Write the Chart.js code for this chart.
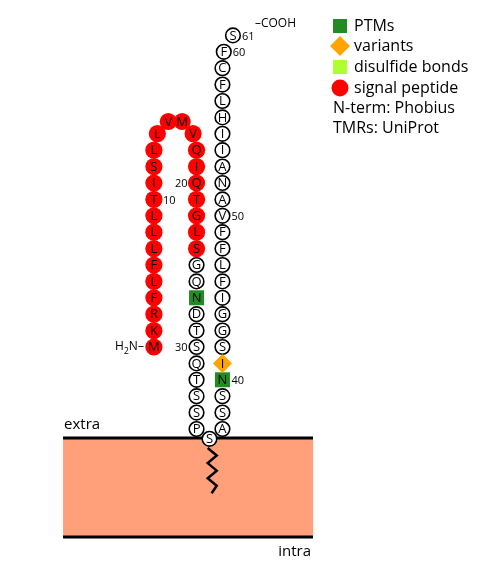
<!DOCTYPE html>
<html>
<head>
<meta charset="utf-8">
<script src="https://cdn.jsdelivr.net/npm/chart.js@4/dist/chart.umd.min.js"></script>
<style>
  body { margin: 0; background: #fff; }
  #wrap { width: 502px; height: 575px; position: relative; }
</style>
</head>
<body>
<div id="wrap"><canvas id="topo"></canvas></div>
<script>
// protein sequence, one letter per residue (N -> C)
const sequence = ['M','K','R','F','L','F','L','L','L','T','I','S','L','L','V','M','V','Q','I','Q',
                  'T','G','L','S','G','Q','N','D','T','S','Q','T','S','S','P','S','A','S','S','N',
                  'I','S','G','G','I','F','L','F','F','V','A','N','A','I','I','H','L','F','C','F','S'];

// features (residue numbers, 1-based)
const signalPeptide = [1, 24];
const ptmSites = [27, 40];
const variantSites = [41];
const disulfideSites = [];
const anchorResidue = 36;       // residue sitting on the membrane

// legend
const legendLabels = ['PTMs', 'variants', 'disulfide bonds', 'signal peptide'];
const legendNotes = ['N-term: Phobius', 'TMRs: UniProt'];

// colours
const colPTM = '#228B22';
const colVariant = '#FFA500';
const colDisulfide = '#ADFF2F';
const colSignal = '#FF0000';
const colMembrane = '#FFA07A';

const W = 502, H = 575;
const U = 16.4;                        // pixels per residue step
const ORIGIN = {x: 209.5, y: 438};     // anchor residue / membrane top
const COL = 0.79;                      // half distance between strands
const GAP = 2.6;                       // hairpin width
const ROW0 = 0.55;                     // first row above the anchor
const LOOP_ROWS = 17;                  // rows before the hairpin turns

// place a residue in residue-step units, anchor = (0,0)
function place(n) {
  if (n === anchorResidue) return {x: 0, y: -0.05};
  if (n > anchorResidue) {
    const j = n - anchorResidue - 1;
    const over = Math.max(0, n - (sequence.length - 2));
    return {x: COL + 0.08 * over ** 3, y: ROW0 + j};
  }
  const j = anchorResidue - 1 - n;
  if (j <= LOOP_ROWS) return {x: -COL, y: ROW0 + j};
  const k = j - LOOP_ROWS - 1;         // 0..3 around the turn
  if (k < 4) {
    const a = (33 + k * 38) * Math.PI / 180;
    return {x: -COL - GAP / 2 + (GAP / 2) * Math.cos(a),
            y: ROW0 + LOOP_ROWS + 1.85 * Math.sin(a)};
  }
  return {x: -COL - GAP, y: ROW0 + LOOP_ROWS - (k - 4)};
}

function kind(n) {
  if (variantSites.includes(n)) return 'variant';
  if (ptmSites.includes(n)) return 'ptm';
  if (disulfideSites.includes(n)) return 'ss';
  if (n >= signalPeptide[0] && n <= signalPeptide[1]) return 'signal';
  return 'plain';
}

const groups = {plain: [], signal: [], ptm: [], ss: [], variant: []};
sequence.forEach((aa, i) => {
  const n = i + 1;
  const p = place(n);
  groups[kind(n)].push({x: p.x, y: p.y, aa: aa, n: n});
});

// membrane extent in the same units
const MEM = {left: -8.93, right: 6.31, bottom: -6.04};

const FONT = "'Open Sans', 'Noto Sans', sans-serif";

const topoPlugin = {
  id: 'topo',
  beforeDatasetsDraw(chart) {
    const {ctx, scales: {x, y}} = chart;
    const px = v => x.getPixelForValue(v), py = v => y.getPixelForValue(v);
    ctx.save();
    ctx.fillStyle = colMembrane;
    ctx.fillRect(px(MEM.left), py(0), px(MEM.right) - px(MEM.left), py(MEM.bottom) - py(0));
    ctx.strokeStyle = '#000';
    ctx.lineWidth = 3;
    [0, MEM.bottom].forEach(v => {
      ctx.beginPath();
      ctx.moveTo(px(MEM.left), py(v));
      ctx.lineTo(px(MEM.right), py(v));
      ctx.stroke();
    });
    // anchor zigzag
    ctx.lineWidth = 2.5;
    ctx.beginPath();
    for (let i = 0; i <= 6; i++) {
      const zx = i === 6 ? 0.13 : (i % 2 ? 0.44 : -0.11);
      const zy = -0.61 - i * 0.46;
      if (i === 0) ctx.moveTo(px(zx), py(zy)); else ctx.lineTo(px(zx), py(zy));
    }
    ctx.stroke();
    ctx.fillStyle = '#000';
    ctx.font = '15px ' + FONT;
    ctx.textBaseline = 'middle';
    ctx.textAlign = 'left';
    ctx.fillText('extra', px(MEM.left) + 1, py(0.8));
    ctx.textAlign = 'right';
    ctx.fillText('intra', px(MEM.right) - 2, py(MEM.bottom - 0.9));
    ctx.restore();
  },
  afterDatasetsDraw(chart) {
    const {ctx} = chart;
    ctx.save();
    ctx.fillStyle = '#000';
    ctx.textBaseline = 'middle';
    const pos = {};
    chart.data.datasets.forEach((ds, di) => {
      const meta = chart.getDatasetMeta(di);
      ds.data.forEach((d, j) => { pos[d.n] = {x: meta.data[j].x, y: meta.data[j].y, aa: d.aa, rx: d.x}; });
    });
    // residue letters
    ctx.font = '13px ' + FONT;
    ctx.textAlign = 'center';
    Object.values(pos).forEach(p => ctx.fillText(p.aa, p.x, p.y + 0.5));
    // position numbers
    ctx.font = '11px ' + FONT;
    const last = sequence.length;
    Object.keys(pos).map(Number).filter(n => n % 10 === 0 || n === last).forEach(n => {
      const p = pos[n];
      if (p.rx > -COL - 0.1 && p.rx < 0) {
        ctx.textAlign = 'right';
        ctx.fillText(String(n), p.x - 9, p.y + 0.5);
      } else {
        ctx.textAlign = 'left';
        ctx.fillText(String(n), p.x + 9, p.y + 1.5);
      }
    });
    // termini
    const nt = pos[1], ct = pos[last];
    ctx.font = '12px ' + FONT;
    ctx.textAlign = 'right';
    const tail = 'N\u2013';
    const tw = ctx.measureText(tail).width;
    ctx.fillText(tail, nt.x - 10, nt.y);
    ctx.font = '9px ' + FONT;
    const sw = ctx.measureText('2').width;
    ctx.fillText('2', nt.x - 10 - tw, nt.y + 4);
    ctx.font = '12px ' + FONT;
    ctx.fillText('H', nt.x - 10 - tw - sw, nt.y);
    ctx.textAlign = 'left';
    ctx.fillText('\u2013COOH', ct.x + 22, ct.y - 12);

    // legend
    const lx = 340, tx = 354, rows = [26, 46, 67, 88];
    ctx.fillStyle = colPTM; ctx.fillRect(lx - 7, rows[0] - 7, 14, 14);
    ctx.fillStyle = colVariant;
    ctx.beginPath();
    ctx.moveTo(lx, rows[1] - 10); ctx.lineTo(lx + 10, rows[1]);
    ctx.lineTo(lx, rows[1] + 10); ctx.lineTo(lx - 10, rows[1]);
    ctx.closePath(); ctx.fill();
    ctx.fillStyle = colDisulfide; ctx.fillRect(lx - 7, rows[2] - 7, 14, 14);
    ctx.fillStyle = colSignal;
    ctx.beginPath(); ctx.arc(lx, rows[3], 8.5, 0, Math.PI * 2); ctx.fill();
    ctx.fillStyle = '#000';
    ctx.font = '16px ' + FONT;
    ctx.textAlign = 'left';
    legendLabels.forEach((t, i) => ctx.fillText(t, tx, rows[i]));
    legendNotes.forEach((t, i) => ctx.fillText(t, 333, 108 + i * 20));
    ctx.restore();
  }
};

const base = {pointStyle: 'circle', clip: false, showLine: false};

new Chart(document.getElementById('topo'), {
  type: 'scatter',
  data: {
    datasets: [
      {...base, label: 'variants', data: groups.variant, pointStyle: 'rectRot', pointRadius: 9.5,
        backgroundColor: colVariant, borderWidth: 0},
      {...base, label: 'PTMs', data: groups.ptm, pointStyle: 'rect', pointRadius: 10.6,
        backgroundColor: colPTM, borderWidth: 0},
      {...base, label: 'disulfide bonds', data: groups.ss, pointStyle: 'rect', pointRadius: 10.6,
        backgroundColor: colDisulfide, borderWidth: 0},
      {...base, label: 'residues', data: groups.plain, pointRadius: 7.3,
        backgroundColor: '#fff', borderColor: '#000', borderWidth: 1.6},
      {...base, label: 'signal peptide', data: groups.signal, pointRadius: 8.6,
        backgroundColor: colSignal, borderColor: colSignal, borderWidth: 0}
    ]
  },
  options: {
    responsive: true,
    maintainAspectRatio: false,
    animation: false,
    events: [],
    layout: {padding: 0, autoPadding: false},
    plugins: {legend: {display: false}, tooltip: {enabled: false}},
    scales: {
      x: {type: 'linear', display: false, min: -ORIGIN.x / U, max: (W - ORIGIN.x) / U},
      y: {type: 'linear', display: false, min: -(H - ORIGIN.y) / U, max: ORIGIN.y / U}
    }
  },
  plugins: [topoPlugin]
});
</script>
</body>
</html>
